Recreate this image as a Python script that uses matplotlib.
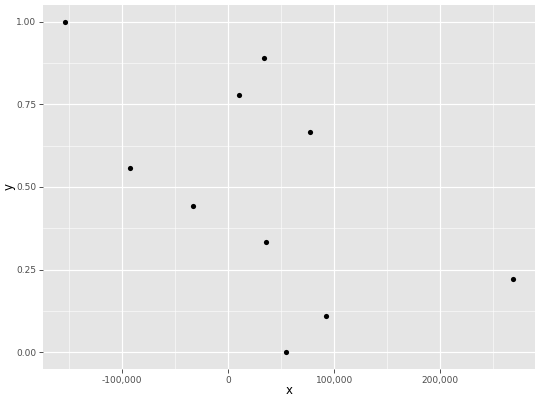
import matplotlib
matplotlib.use('Agg')
import matplotlib.pyplot as plt
from matplotlib.ticker import FuncFormatter, MultipleLocator

# values
x_vals = [-153200, 33600, 10000, 77400, -92500, -32700, 36100, 268200, 92500, 54300]
y_vals = [1.0, 0.889, 0.778, 0.667, 0.556, 0.444, 0.333, 0.222, 0.111, 0.0]
x_ticks = [-100000, 0, 100000, 200000]
y_ticks = [0.0, 0.25, 0.5, 0.75, 1.0]

fig = plt.figure(figsize=(5.4, 4.0), dpi=100)
ax = fig.add_axes([43 / 540, 31 / 400, 492 / 540, 364 / 400])
ax.set_facecolor('#E5E5E5')

# ggplot-style 5% expansion
xr = max(x_vals) - min(x_vals)
ax.set_xlim(min(x_vals) - 0.05 * xr, max(x_vals) + 0.05 * xr)
ax.set_ylim(-0.05, 1.05)

ax.set_xticks(x_ticks)
ax.set_yticks(y_ticks)
ax.xaxis.set_minor_locator(MultipleLocator(50000))
ax.yaxis.set_minor_locator(MultipleLocator(0.125))
ax.xaxis.set_major_formatter(FuncFormatter(lambda v, p: '{:,.0f}'.format(v)))
ax.yaxis.set_major_formatter(FuncFormatter(lambda v, p: '{:.2f}'.format(v)))

ax.grid(which='major', color='white', linewidth=0.85)
ax.grid(which='minor', color='white', linewidth=0.4)
ax.set_axisbelow(True)

for s in ax.spines.values():
    s.set_visible(False)

ax.tick_params(which='major', length=2.7, width=0.6, color='#333333',
               labelsize=6.5, labelcolor='#4D4D4D', pad=2)
ax.tick_params(which='minor', length=0)

ax.scatter(x_vals, y_vals, s=14, color='black', zorder=3, linewidths=0)

ax.set_xlabel('x', fontsize=8.5, va='center')
ax.set_ylabel('y', fontsize=8.5, va='center')
ax.xaxis.set_label_coords(0.5, -22 / 364)
ax.yaxis.set_label_coords(-34 / 492, 0.5)

fig.savefig('out.png', dpi=100)
